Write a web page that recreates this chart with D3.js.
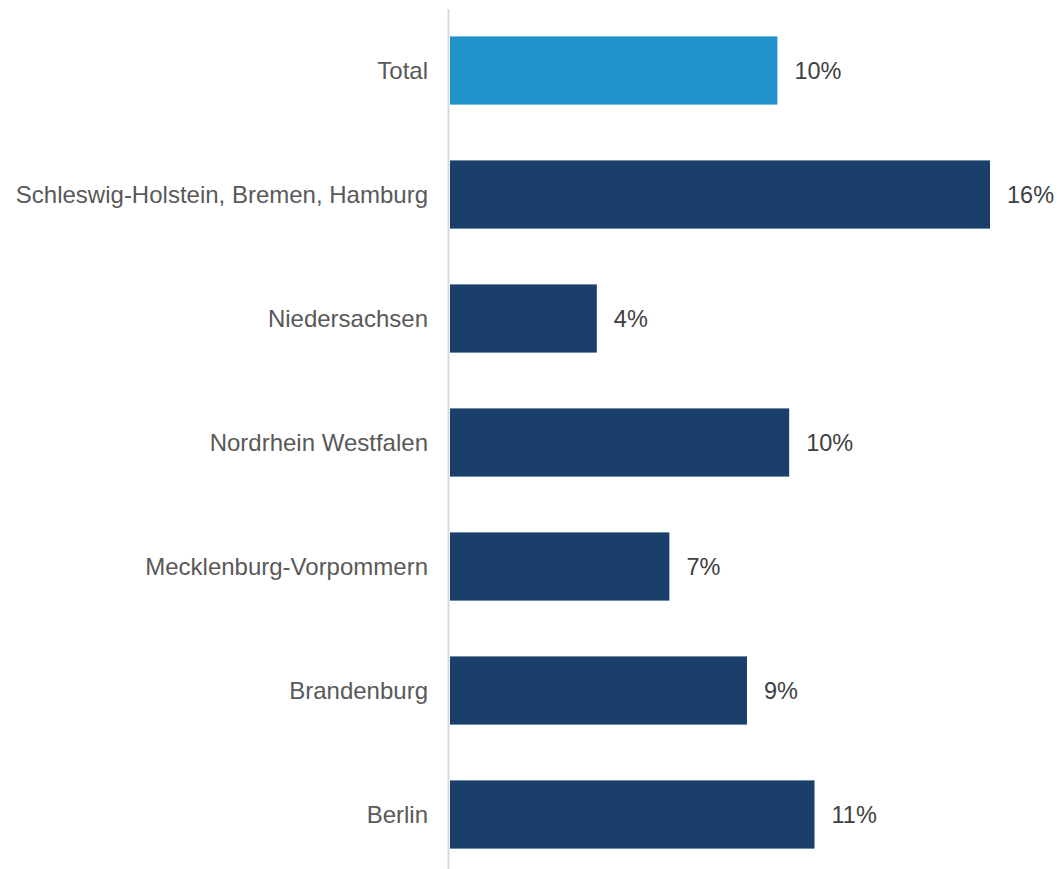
<!DOCTYPE html>
<html>
<head>
<meta charset="utf-8">
<script src="https://cdn.jsdelivr.net/npm/d3@7"></script>
<style>
  html, body { margin: 0; padding: 0; background: #fff; }
  #chart { width: 1059px; height: 869px; }
</style>
</head>
<body>
<div id="chart"></div>
<script>
const categories = [
    "Total",
    "Schleswig-Holstein, Bremen, Hamburg",
    "Niedersachsen",
    "Nordrhein Westfalen",
    "Mecklenburg-Vorpommern",
    "Brandenburg",
    "Berlin"
];
const values = [9.7, 16.0, 4.35, 10.05, 6.5, 8.8, 10.8];
const valueLabels = ["10%", "16%", "4%", "10%", "7%", "9%", "11%"];

const width = 1059;
const height = 869;
const margin = { top: 8.5, right: 0, bottom: -7.5, left: 450 };

const svg = d3.select("#chart").append("svg")
    .attr("width", width)
    .attr("height", height)
    .attr("viewBox", [0, 0, width, height]);

const x = d3.scaleLinear()
    .domain([0, 18])
    .range([margin.left, margin.left + 18 * 33.75]);

const y = d3.scaleBand()
    .domain(categories)
    .range([margin.top, height - margin.bottom])
    .paddingInner(0.45)
    .paddingOuter(0.225);

// bars
svg.append("g")
    .selectAll("rect")
    .data(categories)
    .join("rect")
    .attr("x", x(0))
    .attr("y", d => y(d))
    .attr("width", (d, i) => x(values[i]) - x(0))
    .attr("height", y.bandwidth())
    .attr("fill", (d, i) => i === 0 ? "#2191c9" : "#193f6a");

// vertical axis line
svg.append("line")
    .attr("x1", x(0) - 1.5)
    .attr("x2", x(0) - 1.5)
    .attr("y1", 9)
    .attr("y2", height)
    .attr("stroke", "#d9d9d9")
    .attr("stroke-width", 2);

// category labels
svg.append("g")
    .selectAll("text")
    .data(categories)
    .join("text")
    .attr("x", x(0) - 22)
    .attr("y", d => y(d) + y.bandwidth() / 2)
    .attr("dy", "0.35em")
    .attr("text-anchor", "end")
    .style("font-family", "'Liberation Sans', Arial, sans-serif")
    .style("font-size", "24px")
    .style("fill", "#595959")
    .text(d => d);

// value labels
svg.append("g")
    .selectAll("text")
    .data(categories)
    .join("text")
    .attr("x", (d, i) => x(values[i]) + 17)
    .attr("y", d => y(d) + y.bandwidth() / 2)
    .attr("dy", "0.35em")
    .style("font-family", "'Liberation Sans', Arial, sans-serif")
    .style("font-size", "23.5px")
    .style("fill", "#404040")
    .text((d, i) => valueLabels[i]);
</script>
</body>
</html>
